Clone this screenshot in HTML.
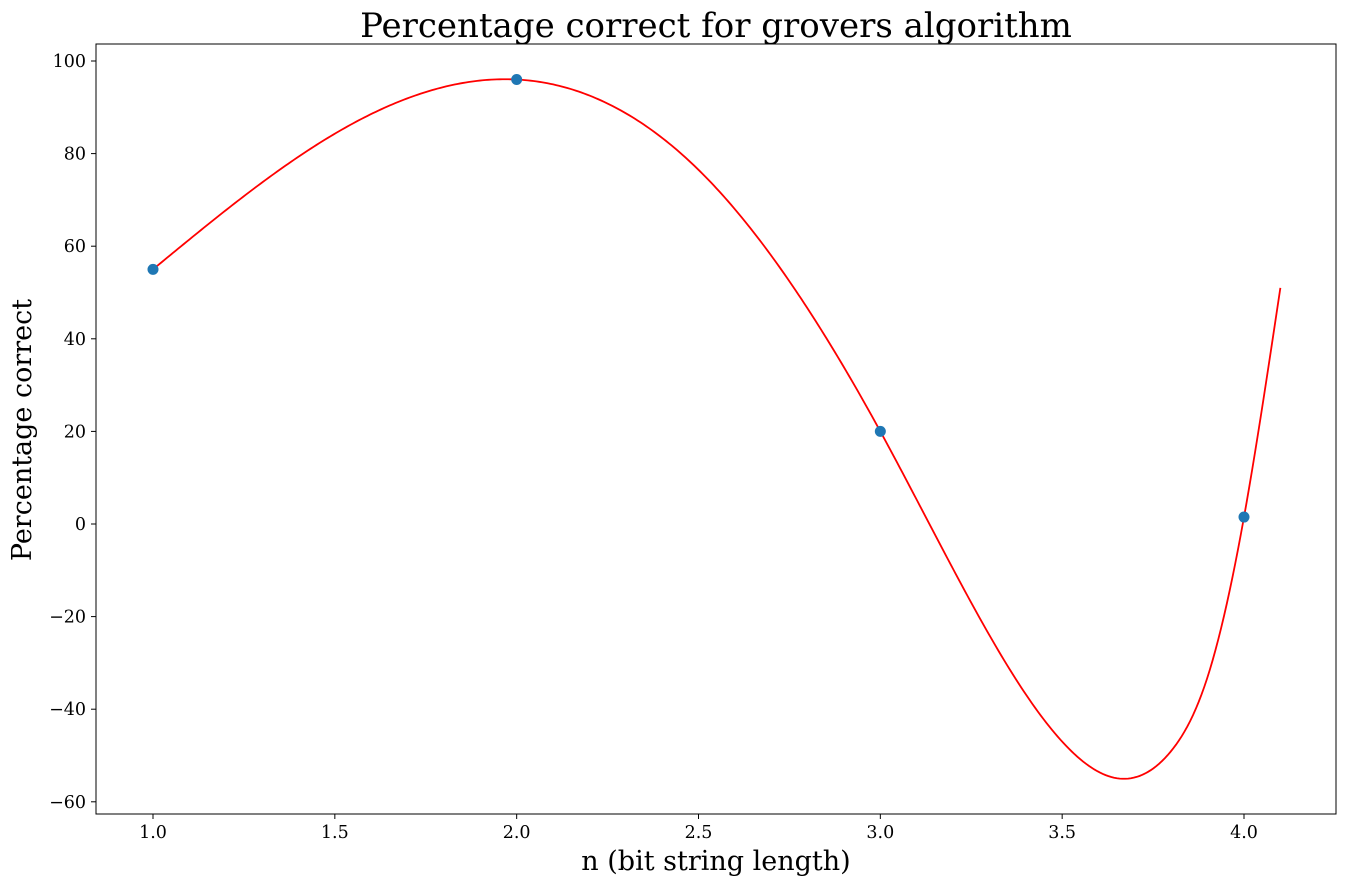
<!DOCTYPE html>
<html><head><meta charset="utf-8"><style>
body{margin:0;background:#fff}
svg{display:block;font-family:"DejaVu Serif","Liberation Serif",serif}
</style></head><body>
<svg id="chart" width="1346" height="886"></svg>
<script>
const xValues=[1,2,3,4];
const yValues=[55,96,20,1.5];
const curveX=[1.0,1.5,2.0,2.5,3.0,3.25,3.5,3.66,3.8,3.9,4.0,4.1];
const curveY=[55,84.3,96,76.5,20,-17,-47,-55,-49,-33,1.5,51];
const xTickLabels=["1.0","1.5","2.0","2.5","3.0","3.5","4.0"];
const yTickLabels=["100","80","60","40","20","0","\u221220","\u221240","\u221260"];
const xTicks=[1,1.5,2,2.5,3,3.5,4];
const yTicks=[100,80,60,40,20,0,-20,-40,-60];

const L=96,R=1336,T=44,B=814;
const sx=v=>153+(v-1)*(1244-153)/3;
const sy=v=>524-v*(524-61)/100;
const NS="http://www.w3.org/2000/svg";
const svg=document.getElementById('chart');
function mk(t,a,txt){const e=document.createElementNS(NS,t);for(const k in a)e.setAttribute(k,a[k]);if(txt!==undefined)e.textContent=txt;svg.appendChild(e);return e;}

let e=mk('rect',{x:L,y:T,width:R-L,height:B-T,fill:'none',stroke:'#000','stroke-width':1});



xTicks.forEach((v,i)=>{
  let t=mk('line',{x1:sx(v),x2:sx(v),y1:B,y2:B+5,stroke:'#000'});
  
  
  let l=mk('text',{x:sx(v),y:B+24,'text-anchor':'middle','font-size':17.5},xTickLabels[i]);
  
  
});
yTicks.forEach((v,i)=>{
  let t=mk('line',{x1:L-5,x2:L,y1:sy(v),y2:sy(v),stroke:'#000'});
  
  
  let l=mk('text',{x:L-10,y:sy(v)+6,'text-anchor':'end','font-size':17.5},yTickLabels[i]);
  
  
});

// natural cubic spline through curve samples
function spline(xs,ys){
  const n=xs.length,h=[],a=[],l=[1],mu=[0],z=[0],c=new Array(n).fill(0),b=[],dd=[];
  for(let i=0;i<n-1;i++)h.push(xs[i+1]-xs[i]);
  for(let i=1;i<n-1;i++)a[i]=3/h[i]*(ys[i+1]-ys[i])-3/h[i-1]*(ys[i]-ys[i-1]);
  for(let i=1;i<n-1;i++){l[i]=2*(xs[i+1]-xs[i-1])-h[i-1]*mu[i-1];mu[i]=h[i]/l[i];z[i]=(a[i]-h[i-1]*z[i-1])/l[i];}
  for(let j=n-2;j>=0;j--){c[j]=(j===0?0:z[j])-mu[j]*c[j+1];if(j===0)c[0]=0;b[j]=(ys[j+1]-ys[j])/h[j]-h[j]*(c[j+1]+2*c[j])/3;dd[j]=(c[j+1]-c[j])/(3*h[j]);}
  return x=>{let i=0;while(i<n-2&&x>xs[i+1])i++;const t=x-xs[i];return ys[i]+b[i]*t+c[i]*t*t+dd[i]*t*t*t;};
}
const f=spline(curveX,curveY);
let d='';const N=400,x0=curveX[0],x1=curveX[curveX.length-1];
for(let k=0;k<=N;k++){const x=x0+(x1-x0)*k/N;d+=(k?'L':'M')+sx(x).toFixed(2)+','+sy(f(x)).toFixed(2);}
e=mk('path',{d:d,fill:'none',stroke:'#ff0000','stroke-width':1.8});



xValues.forEach((v,i)=>{
  let c=mk('circle',{cx:sx(v),cy:sy(yValues[i]),r:5.5,fill:'#1f77b4'});
  
  
});

e=mk('text',{x:716,y:37,'text-anchor':'middle','font-size':34},'Percentage correct for grovers algorithm');


e=mk('text',{x:716,y:870,'text-anchor':'middle','font-size':27},'n (bit string length)');


e=mk('text',{x:0,y:0,'text-anchor':'middle','font-size':27,transform:'translate(31,430) rotate(-90)'},'Percentage correct');


</script>
</body></html>
